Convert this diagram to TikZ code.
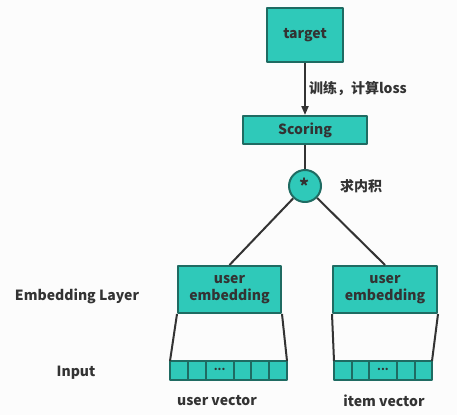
\documentclass[tikz,border=0pt]{standalone}
\usepackage{fontspec}
\setmainfont{Noto Sans CJK SC}
\usetikzlibrary{positioning,arrows.meta}
\definecolor{tealfill}{HTML}{2FC9B9}
\definecolor{tealedge}{HTML}{1F6B62}
\definecolor{inkgray}{HTML}{333333}
\tikzset{
  box/.style={draw=tealedge,fill=tealfill,line width=2pt,text=inkgray,font=\bfseries\fontsize{14}{15}\selectfont,inner sep=0pt,align=center},
  cell/.style={draw=tealedge,fill=tealfill,line width=2pt,minimum height=19pt,minimum width=17.8pt,inner sep=0pt,outer sep=0pt,text=inkgray,font=\bfseries\fontsize{11}{11}\selectfont},
  tag/.style={text=inkgray,font=\bfseries\fontsize{14}{15}\selectfont,inner sep=0pt},
  wire/.style={draw=inkgray,line width=2pt}
}
\begin{document}
\begin{tikzpicture}[x=1pt,y=-1pt,line join=round]
\useasboundingbox[fill=white!98!gray](0,0)rectangle(457,415);
% top part
\node[box,minimum width=76pt,minimum height=54pt] (target) at (305,35) {target};
\node[box,minimum width=124pt,minimum height=28pt] (scoring) at (305,130) {Scoring};
\node[box,circle,minimum size=32pt,font=\bfseries\fontsize{19}{19}\selectfont] (dot) at (305,186) {\raisebox{-3pt}{*}};
\draw[wire,-{Triangle[length=9pt,width=7pt]}] (target) -- (scoring) node[midway,right=3pt,tag]{训练，计算loss};
\draw[wire] (scoring) -- (dot);
\node[tag,right=18pt of dot] (dotlbl) {求内积};
% embeddings
\node[box,minimum width=103pt,minimum height=47pt] (uemb) at (229.5,289.5) {user\\[2pt]embedding};
\node[box,minimum width=104pt,minimum height=47pt] (iemb) at (385,289.5) {user\\[2pt]embedding};
\draw[wire] (dot) -- (uemb.north);
\draw[wire] (dot) -- (iemb.north);
\node[tag] (emblbl) at (77,296) {Embedding Layer};
% input vectors
\node[cell,anchor=west] (u1) at (170,370.5) {};
\node[cell,right=0pt of u1] (u2) {};
\node[cell,right=0pt of u2,minimum width=28pt] (u3) {\raisebox{2pt}{...}};
\node[cell,right=0pt of u3] (u4) {};
\node[cell,right=0pt of u4] (u5) {};
\node[cell,right=0pt of u5] (u6) {};
\node[cell,anchor=west,minimum width=17.5pt] (i1) at (334,370.5) {};
\node[cell,right=0pt of i1,minimum width=17.5pt] (i2) {};
\node[cell,right=0pt of i2,minimum width=28pt] (i3) {\raisebox{2pt}{...}};
\node[cell,right=0pt of i3,minimum width=17.5pt] (i4) {};
\node[cell,right=0pt of i4,minimum width=17.5pt] (i5) {};
\draw[wire] (uemb.south west) -- (u1.north west);
\draw[wire] (uemb.south east) -- (u6.north east);
\draw[wire] (iemb.south west) -- (i1.north west);
\draw[wire] (iemb.south east) -- (i5.north east);
\node[tag] (inlbl) at (76,373) {Input};
\node[tag] (ulbl) at (217,401) {user vector};
\node[tag] (ilbl) at (384,401) {item vector};
\end{tikzpicture}
\end{document}
